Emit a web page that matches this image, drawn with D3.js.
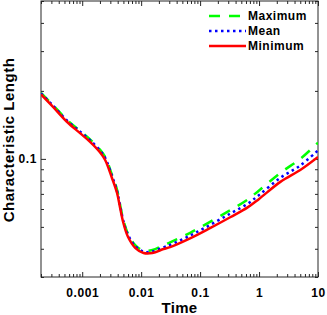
<!DOCTYPE html>
<html>
<head>
<meta charset="utf-8">
<script src="https://cdn.jsdelivr.net/npm/d3@7"></script>
<style>
  html, body { margin: 0; padding: 0; background: #fff; }
  svg { display: block; }
  text { font-family: "Liberation Sans", Arial, Helvetica, sans-serif; fill: #000; }
</style>
</head>
<body>
<svg id="chart" width="327" height="315"></svg>
<script>
// ---- data ----
const time = [0.0002, 0.00032, 0.00055, 0.00092, 0.00136, 0.002, 0.00245, 0.0032, 0.0039, 0.0044,
              0.005, 0.006, 0.008, 0.011, 0.0155, 0.024, 0.031, 0.069, 0.15, 0.33, 0.64, 1.0, 2.3, 5, 10];
const minimum = [0.193, 0.170, 0.146, 0.130, 0.119, 0.107, 0.0989, 0.0823, 0.0706, 0.0606,
                 0.052, 0.0451, 0.0403, 0.0383, 0.0383, 0.0399, 0.0407, 0.0446, 0.0495, 0.0553,
                 0.061, 0.0665, 0.0791, 0.0893, 0.102];
const mean = [0.195, 0.172, 0.148, 0.132, 0.121, 0.109, 0.101, 0.084, 0.072, 0.062,
              0.053, 0.046, 0.041, 0.0388, 0.0389, 0.0406, 0.0416, 0.0459, 0.0511, 0.0574,
              0.0633, 0.0692, 0.0825, 0.0935, 0.109];
const maximum = [0.196, 0.173, 0.149, 0.133, 0.122, 0.110, 0.102, 0.085, 0.073, 0.0625,
                 0.0535, 0.0465, 0.0414, 0.0392, 0.0395, 0.0415, 0.0427, 0.0472, 0.0528, 0.0594,
                 0.0660, 0.0725, 0.0867, 0.100, 0.118];
const xMajorTicks = [0.001, 0.01, 0.1, 1, 10];
const xTickLabels = ["0.001", "0.01", "0.1", "1", "10"];
const yMajorTicks = [0.1];
const yTickLabels = ["0.1"];
const seriesNames = ["Maximum", "Mean", "Minimum"];
const xLabel = "Time";
const yLabel = "Characteristic Length";

// ---- layout ----
const L = 41, R = 318, T = 1, B = 277;
const svg = d3.select("#chart");
const x = d3.scaleLog().domain([0.0002, 10]).range([L, R]);
const y = d3.scaleLog().domain([0.03, 0.5]).range([B, T]);

const axisColor = "#262626";
const minorX = x.ticks().filter(v => !xMajorTicks.some(m => Math.abs(m - v) / m < 1e-6));
const minorY = y.ticks().filter(v => !yMajorTicks.some(m => Math.abs(m - v) / m < 1e-6));

function styleAxis(g) {
  g.select(".domain").remove();
  g.selectAll("line").attr("stroke", axisColor).attr("stroke-width", 1);
  g.selectAll("text").style("font-size", "12px").style("font-weight", "bold")
    .style("letter-spacing", "0.6px").attr("fill", "#000");
}

// bottom
svg.append("g").attr("transform", `translate(0,${B})`)
  .call(d3.axisBottom(x).tickValues(minorX).tickSize(-3).tickFormat("")).call(styleAxis);
svg.append("g").attr("transform", `translate(0,${B})`)
  .call(d3.axisBottom(x).tickValues(xMajorTicks).tickSize(-5).tickPadding(11)
    .tickFormat((d, i) => xTickLabels[i])).call(styleAxis);
// top
svg.append("g").attr("transform", `translate(0,${T})`)
  .call(d3.axisTop(x).tickValues(minorX).tickSize(-3).tickFormat("")).call(styleAxis);
svg.append("g").attr("transform", `translate(0,${T})`)
  .call(d3.axisTop(x).tickValues(xMajorTicks).tickSize(-5).tickFormat("")).call(styleAxis);
// left
svg.append("g").attr("transform", `translate(${L},0)`)
  .call(d3.axisLeft(y).tickValues(minorY).tickSize(-3).tickFormat("")).call(styleAxis);
svg.append("g").attr("transform", `translate(${L},0)`)
  .call(d3.axisLeft(y).tickValues(yMajorTicks).tickSize(-5).tickPadding(4)
    .tickFormat((d, i) => yTickLabels[i])).call(styleAxis);
// right
svg.append("g").attr("transform", `translate(${R},0)`)
  .call(d3.axisRight(y).tickValues(minorY).tickSize(-3).tickFormat("")).call(styleAxis);
svg.append("g").attr("transform", `translate(${R},0)`)
  .call(d3.axisRight(y).tickValues(yMajorTicks).tickSize(-5).tickFormat("")).call(styleAxis);

// box
svg.append("rect").attr("x", L).attr("y", T).attr("width", R - L).attr("height", B - T)
  .attr("fill", "none").attr("stroke", axisColor).attr("stroke-width", 1);

// clip
svg.append("clipPath").attr("id", "clip").append("rect")
  .attr("x", L).attr("y", T).attr("width", R - L).attr("height", B - T);

const series = [
  { name: seriesNames[0], values: maximum, color: "#00ff00", dash: "11,9", width: 2.5 },
  { name: seriesNames[1], values: mean, color: "#0000ff", dash: "2.5,3.5", width: 2.5 },
  { name: seriesNames[2], values: minimum, color: "#ff0000", dash: null, width: 2.5 }
];

const line = d3.line().x(d => x(d[0])).y(d => y(d[1])).curve(d3.curveCatmullRom.alpha(0.5));
const plot = svg.append("g").attr("clip-path", "url(#clip)");
series.forEach(s => {
  plot.append("path")
    .datum(time.map((t, i) => [t, s.values[i]]))
    .attr("d", line)
    .attr("fill", "none")
    .attr("stroke", s.color)
    .attr("stroke-width", s.width)
    .attr("stroke-dasharray", s.dash)
    .attr("stroke-linejoin", "round");
});

// legend
const legend = svg.append("g");
series.forEach((s, i) => {
  const cy = 16 + i * 15;
  legend.append("line").attr("x1", 209).attr("x2", i === 0 ? 242 : 246)
    .attr("y1", cy).attr("y2", cy)
    .attr("stroke", s.color).attr("stroke-width", s.width)
    .attr("stroke-dasharray", s.dash);
  legend.append("text").attr("x", 248).attr("y", cy + 4.3)
    .style("font-size", "12px").style("font-weight", "bold").style("letter-spacing", "0.5px")
    .text(s.name);
});

// axis labels
svg.append("text").attr("x", (L + R) / 2).attr("y", 313).attr("text-anchor", "middle")
  .style("font-size", "15px").style("font-weight", "bold").style("letter-spacing", "0.3px")
  .text(xLabel);
svg.append("text").attr("transform", "translate(14,140) rotate(-90)").attr("text-anchor", "middle")
  .style("font-size", "15px").style("font-weight", "bold").style("letter-spacing", "0.5px")
  .text(yLabel);
</script>
</body>
</html>
